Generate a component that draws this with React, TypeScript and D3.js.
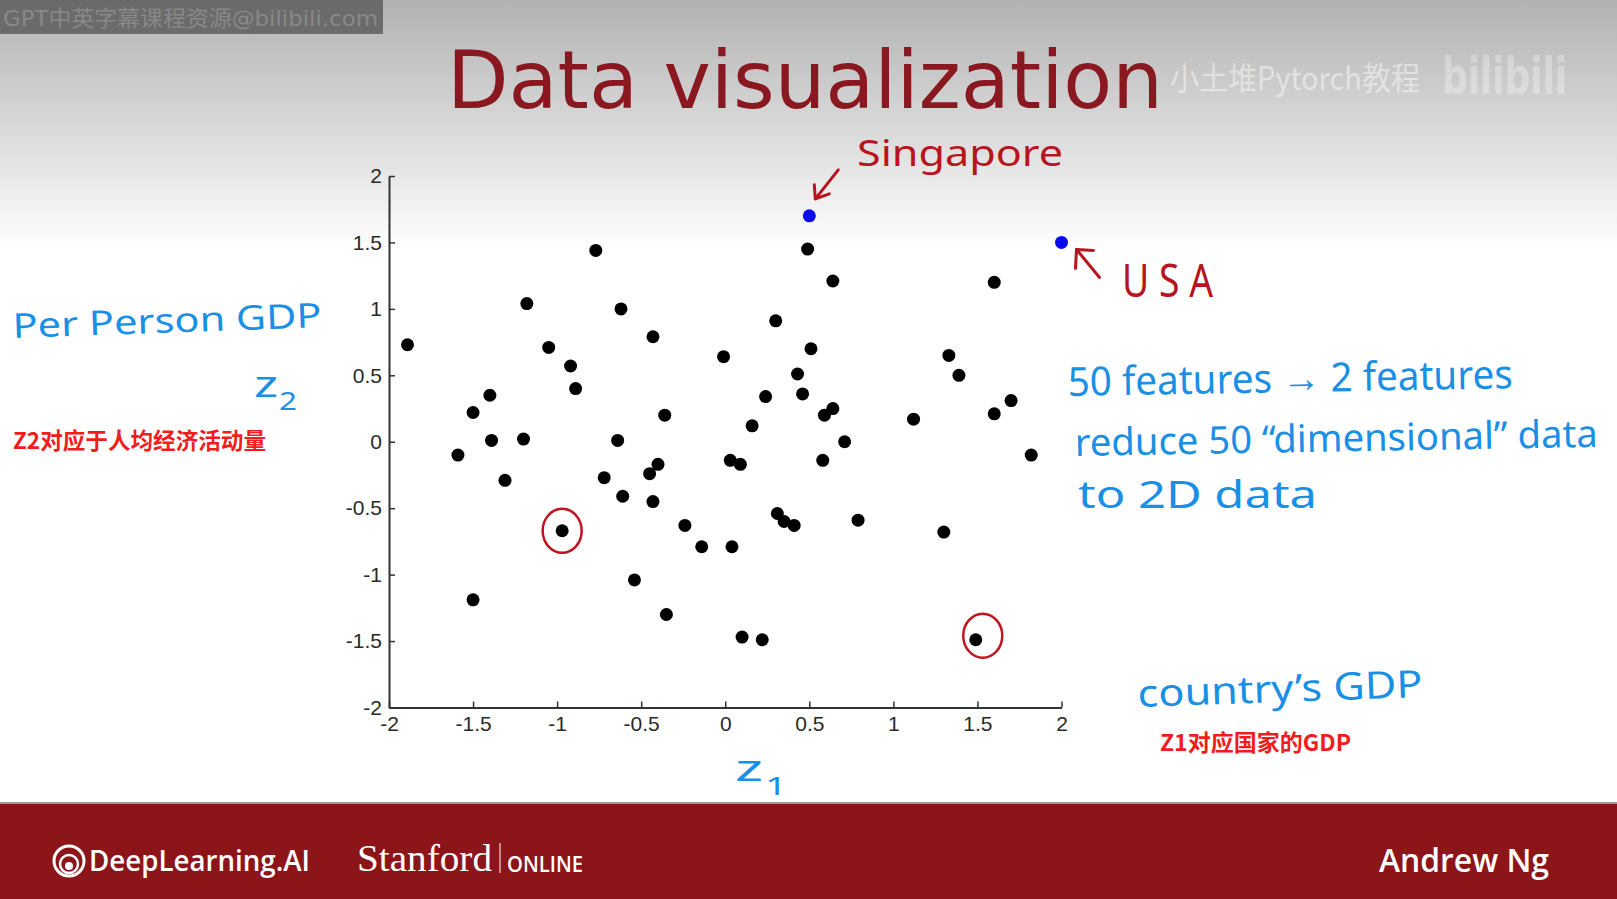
import { useEffect, useRef } from "react";
import * as d3 from "d3";

// z1 / z2 coordinates of the countries (black dots)
const z1 = [
  -1.89, -1.18, -0.77, -0.62, -0.43, -1.05, -0.92, -0.89, -1.4, -1.5, -0.36,
  -1.39, -1.2, -0.64, -1.59, -0.4, -0.45, -1.31, -0.72, -0.61, -0.43, -0.97,
  -0.24, -0.14, -0.54, -1.5, -0.35, 0.49, 0.64, 1.6, 0.3, 0.51, -0.01, 1.33,
  1.39, 0.43, 0.46, 0.24, 0.16, 0.64, 0.59, 1.7, 1.6, 1.12, 0.71, 1.82, 0.03,
  0.09, 0.58, 0.31, 0.35, 0.41, 0.79, 1.3, 0.04, 0.1, 0.22, 1.49,
];
const z2 = [
  0.73, 1.04, 1.44, 1.0, 0.79, 0.71, 0.57, 0.4, 0.35, 0.22, 0.2, 0.01, 0.02,
  0.01, -0.1, -0.17, -0.24, -0.29, -0.27, -0.41, -0.45, -0.67, -0.63, -0.79,
  -1.04, -1.19, -1.3, 1.45, 1.21, 1.2, 0.91, 0.7, 0.64, 0.65, 0.5, 0.51, 0.36,
  0.34, 0.12, 0.25, 0.2, 0.31, 0.21, 0.17, 0.0, -0.1, -0.14, -0.17, -0.14,
  -0.54, -0.6, -0.63, -0.59, -0.68, -0.79, -1.47, -1.49, -1.49,
];

// highlighted countries (blue dots)
const highlightNames = ["Singapore", "USA"];
const highlightZ1 = [0.5, 2.0];
const highlightZ2 = [1.7, 1.5];

// points circled in red
const circledZ1 = [-0.97, 1.49];
const circledZ2 = [-0.67, -1.49];

const tickValues = [-2, -1.5, -1, -0.5, 0, 0.5, 1, 1.5, 2];

const W = 1617;
const H = 899;
const BLUE = "#1a8fe6";
const INK_RED = "#b8141e";
const SUB_RED = "#f21c1c";
const HAND = "'Noto Sans', sans-serif";

export default function App() {
  const svgRef = useRef<SVGSVGElement>(null);

  useEffect(() => {
    if (!svgRef.current) return;
    const root = d3.select(svgRef.current);
    root.selectAll("*").remove();

    // background gradient
    const defs = root.append("defs");
    const grad = defs
      .append("linearGradient")
      .attr("id", "bg")
      .attr("x1", 0)
      .attr("y1", 0)
      .attr("x2", 0)
      .attr("y2", 1);
    grad.append("stop").attr("offset", "0").attr("stop-color", "#b2b2b2");
    grad.append("stop").attr("offset", "0.5").attr("stop-color", "#d8d8d8");
    grad.append("stop").attr("offset", "1").attr("stop-color", "#ffffff");

    root.append("rect").attr("width", W).attr("height", H).attr("fill", "#fff");
    root.append("rect").attr("width", W).attr("height", 250).attr("fill", "url(#bg)");

    // bottom bar
    root.append("rect").attr("y", 802).attr("width", W).attr("height", 3).attr("fill", "#9a9a9a");
    root.append("rect").attr("y", 804).attr("width", W).attr("height", H - 804).attr("fill", "#8c151a");

    // watermark top-left
    root.append("rect").attr("width", 383).attr("height", 34).attr("fill", "#6b6b6b");
    root
      .append("text")
      .attr("x", 3)
      .attr("y", 26)
      .attr("textLength", 375)
      .attr("lengthAdjust", "spacingAndGlyphs")
      .style("font-family", "'DejaVu Sans', 'Noto Sans CJK SC'")
      .style("font-size", "22px")
      .style("fill", "#888888")
      .text("GPT中英字幕课程资源@bilibili.com");

    // title
    root
      .append("text")
      .attr("x", 447)
      .attr("y", 108)
      .attr("textLength", 716)
      .attr("lengthAdjust", "spacingAndGlyphs")
      .style("font-family", "'DejaVu Sans', sans-serif")
      .style("font-size", "80px")
      .style("fill", "#8a1820")
      .text("Data visualization");

    // faint watermark top-right
    root
      .append("text")
      .attr("x", 1170)
      .attr("y", 90)
      .attr("textLength", 250)
      .attr("lengthAdjust", "spacingAndGlyphs")
      .style("font-family", "'Noto Sans CJK SC'")
      .style("font-size", "32px")
      .style("fill", "#ffffff")
      .style("opacity", 0.45)
      .text("小土堆Pytorch教程");
    root
      .append("text")
      .attr("x", 1442)
      .attr("y", 94)
      .attr("textLength", 125)
      .attr("lengthAdjust", "spacingAndGlyphs")
      .style("font-family", "'DejaVu Sans'")
      .style("font-weight", "bold")
      .style("font-size", "52px")
      .style("fill", "#ffffff")
      .style("opacity", 0.3)
      .text("bilibili");

    // plot
    const x = d3.scaleLinear().domain([-2, 2]).range([389, 1061.5]);
    const y = d3.scaleLinear().domain([-2, 2]).range([707.5, 176]);
    const fmt = (d: d3.NumberValue) => String(+d);

    const yAxis = root
      .append("g")
      .attr("transform", `translate(${x(-2)},0)`)
      .call(
        d3
          .axisLeft(y)
          .tickValues(tickValues)
          .tickFormat(fmt)
          .tickSizeInner(-6)
          .tickSizeOuter(0)
          .tickPadding(7),
      );
    const xAxis = root
      .append("g")
      .attr("transform", `translate(0,${y(-2)})`)
      .call(
        d3
          .axisBottom(x)
          .tickValues(tickValues)
          .tickFormat(fmt)
          .tickSizeInner(-6)
          .tickSizeOuter(0)
          .tickPadding(9),
      );
    [yAxis, xAxis].forEach((g) => {
      g.select(".domain").attr("stroke", "#333").attr("stroke-width", 2);
      g.selectAll(".tick line").attr("stroke", "#333").attr("stroke-width", 1.5);
      g.selectAll(".tick text")
        .style("font-family", "'Liberation Sans', Arial, sans-serif")
        .style("font-size", "21px")
        .style("fill", "#2a2a2a");
    });

    // dots
    root
      .append("g")
      .selectAll("circle")
      .data(z1.map((v, i) => [v, z2[i]]))
      .join("circle")
      .attr("cx", (d) => x(d[0]))
      .attr("cy", (d) => y(d[1]))
      .attr("r", 6.5)
      .attr("fill", "#000");

    root
      .append("g")
      .selectAll("circle")
      .data(highlightZ1.map((v, i) => [v, highlightZ2[i]]))
      .join("circle")
      .attr("cx", (d) => x(d[0]))
      .attr("cy", (d) => y(d[1]))
      .attr("r", 6.5)
      .attr("fill", "#0a0aee");

    // red circles drawn around two points
    const circOff = [
      [0, 0],
      [7, -4],
    ];
    root
      .append("g")
      .selectAll("ellipse")
      .data(circledZ1.map((v, i) => [v, circledZ2[i]]))
      .join("ellipse")
      .attr("cx", (d, i) => x(d[0]) + circOff[i][0])
      .attr("cy", (d, i) => y(d[1]) + circOff[i][1])
      .attr("rx", 19.5)
      .attr("ry", 22)
      .attr("fill", "none")
      .attr("stroke", "#c0141e")
      .attr("stroke-width", 2.5);

    // annotations
    const hand = (
      tx: number,
      ty: number,
      len: number,
      size: number,
      color: string,
      str: string,
      rot = 0,
    ) =>
      root
        .append("text")
        .attr("transform", `translate(${tx},${ty}) rotate(${rot})`)
        .attr("textLength", len)
        .attr("lengthAdjust", "spacingAndGlyphs")
        .style("font-family", HAND)
        .style("font-size", `${size}px`)
        .style("fill", color)
        .text(str);

    const sgX = x(highlightZ1[0]);
    const sgY = y(highlightZ2[0]);
    const usX = x(highlightZ1[1]);
    const usY = y(highlightZ2[1]);

    hand(857, 166, 206, 36, INK_RED, highlightNames[0]);
    hand(1122, 297, 91, 46, INK_RED, highlightNames[1].split("").join(" "));

    const arrow = (d: string) =>
      root
        .append("path")
        .attr("d", d)
        .attr("fill", "none")
        .attr("stroke", INK_RED)
        .attr("stroke-width", 3)
        .attr("stroke-linecap", "round")
        .attr("stroke-linejoin", "round");
    // Singapore arrow
    arrow(`M${sgX + 29},${sgY - 46} L${sgX + 6},${sgY - 17}`);
    arrow(`M${sgX + 5},${sgY - 31} L${sgX + 6},${sgY - 17} L${sgX + 20},${sgY - 22}`);
    // USA arrow
    arrow(`M${usX + 38},${usY + 35} L${usX + 15},${usY + 7}`);
    arrow(`M${usX + 14},${usY + 26} L${usX + 15},${usY + 7} L${usX + 32},${usY + 8}`);

    hand(13, 338, 309, 34, BLUE, "Per Person GDP", -2);
    hand(254, 397, 24, 36, BLUE, "z");
    hand(279, 410, 18, 26, BLUE, "2");
    hand(735, 781, 28, 36, BLUE, "z");
    hand(765, 795, 22, 26, BLUE, "1");

    hand(1068, 396, 445, 40, BLUE, "50 features → 2 features", -1);
    hand(1075, 456, 523, 38, BLUE, "reduce 50 \u201Cdimensional\u201D data", -1);
    hand(1078, 508, 239, 38, BLUE, "to 2D data");
    hand(1138, 707, 285, 38, BLUE, "country\u2019s GDP", -2);

    // Chinese subtitles
    root
      .append("text")
      .attr("x", 13)
      .attr("y", 449)
      .attr("textLength", 253)
      .attr("lengthAdjust", "spacingAndGlyphs")
      .style("font-family", "'Noto Sans CJK SC'")
      .style("font-weight", "bold")
      .style("font-size", "23px")
      .style("fill", SUB_RED)
      .text("Z2对应于人均经济活动量");
    root
      .append("text")
      .attr("x", 1160)
      .attr("y", 751)
      .attr("textLength", 191)
      .attr("lengthAdjust", "spacingAndGlyphs")
      .style("font-family", "'Noto Sans CJK SC'")
      .style("font-weight", "bold")
      .style("font-size", "23px")
      .style("fill", SUB_RED)
      .text("Z1对应国家的GDP");

    // footer
    const logo = root.append("g").attr("transform", "translate(69,861)");
    logo.append("circle").attr("r", 15).attr("fill", "none").attr("stroke", "#fff").attr("stroke-width", 3);
    logo.append("circle").attr("cy", 3).attr("r", 9).attr("fill", "none").attr("stroke", "#fff").attr("stroke-width", 2.5);
    logo.append("circle").attr("cy", 5).attr("r", 4).attr("fill", "#fff");

    root
      .append("text")
      .attr("x", 89)
      .attr("y", 871)
      .attr("textLength", 221)
      .attr("lengthAdjust", "spacingAndGlyphs")
      .style("font-family", "'Open Sans', sans-serif")
      .style("font-weight", 600)
      .style("font-size", "28px")
      .style("fill", "#fff")
      .text("DeepLearning.AI");
    root
      .append("text")
      .attr("x", 357)
      .attr("y", 871)
      .attr("textLength", 135)
      .attr("lengthAdjust", "spacingAndGlyphs")
      .style("font-family", "'Liberation Serif', serif")
      .style("font-size", "37px")
      .style("fill", "#fff")
      .text("Stanford");
    root
      .append("line")
      .attr("x1", 500)
      .attr("x2", 500)
      .attr("y1", 843)
      .attr("y2", 873)
      .attr("stroke", "#fff")
      .attr("stroke-width", 1);
    root
      .append("text")
      .attr("x", 507)
      .attr("y", 872)
      .attr("textLength", 76)
      .attr("lengthAdjust", "spacingAndGlyphs")
      .style("font-family", "'Open Sans', sans-serif")
      .style("font-weight", 600)
      .style("font-size", "21px")
      .style("fill", "#fff")
      .text("ONLINE");
    root
      .append("text")
      .attr("x", 1379)
      .attr("y", 872)
      .attr("textLength", 170)
      .attr("lengthAdjust", "spacingAndGlyphs")
      .style("font-family", "'Open Sans', sans-serif")
      .style("font-weight", 600)
      .style("font-size", "33px")
      .style("fill", "#fff")
      .text("Andrew Ng");
  }, []);

  return (
    <svg
      ref={svgRef}
      width={W}
      height={H}
      style={{ position: "fixed", left: 0, top: 0 }}
    ></svg>
  );
}
